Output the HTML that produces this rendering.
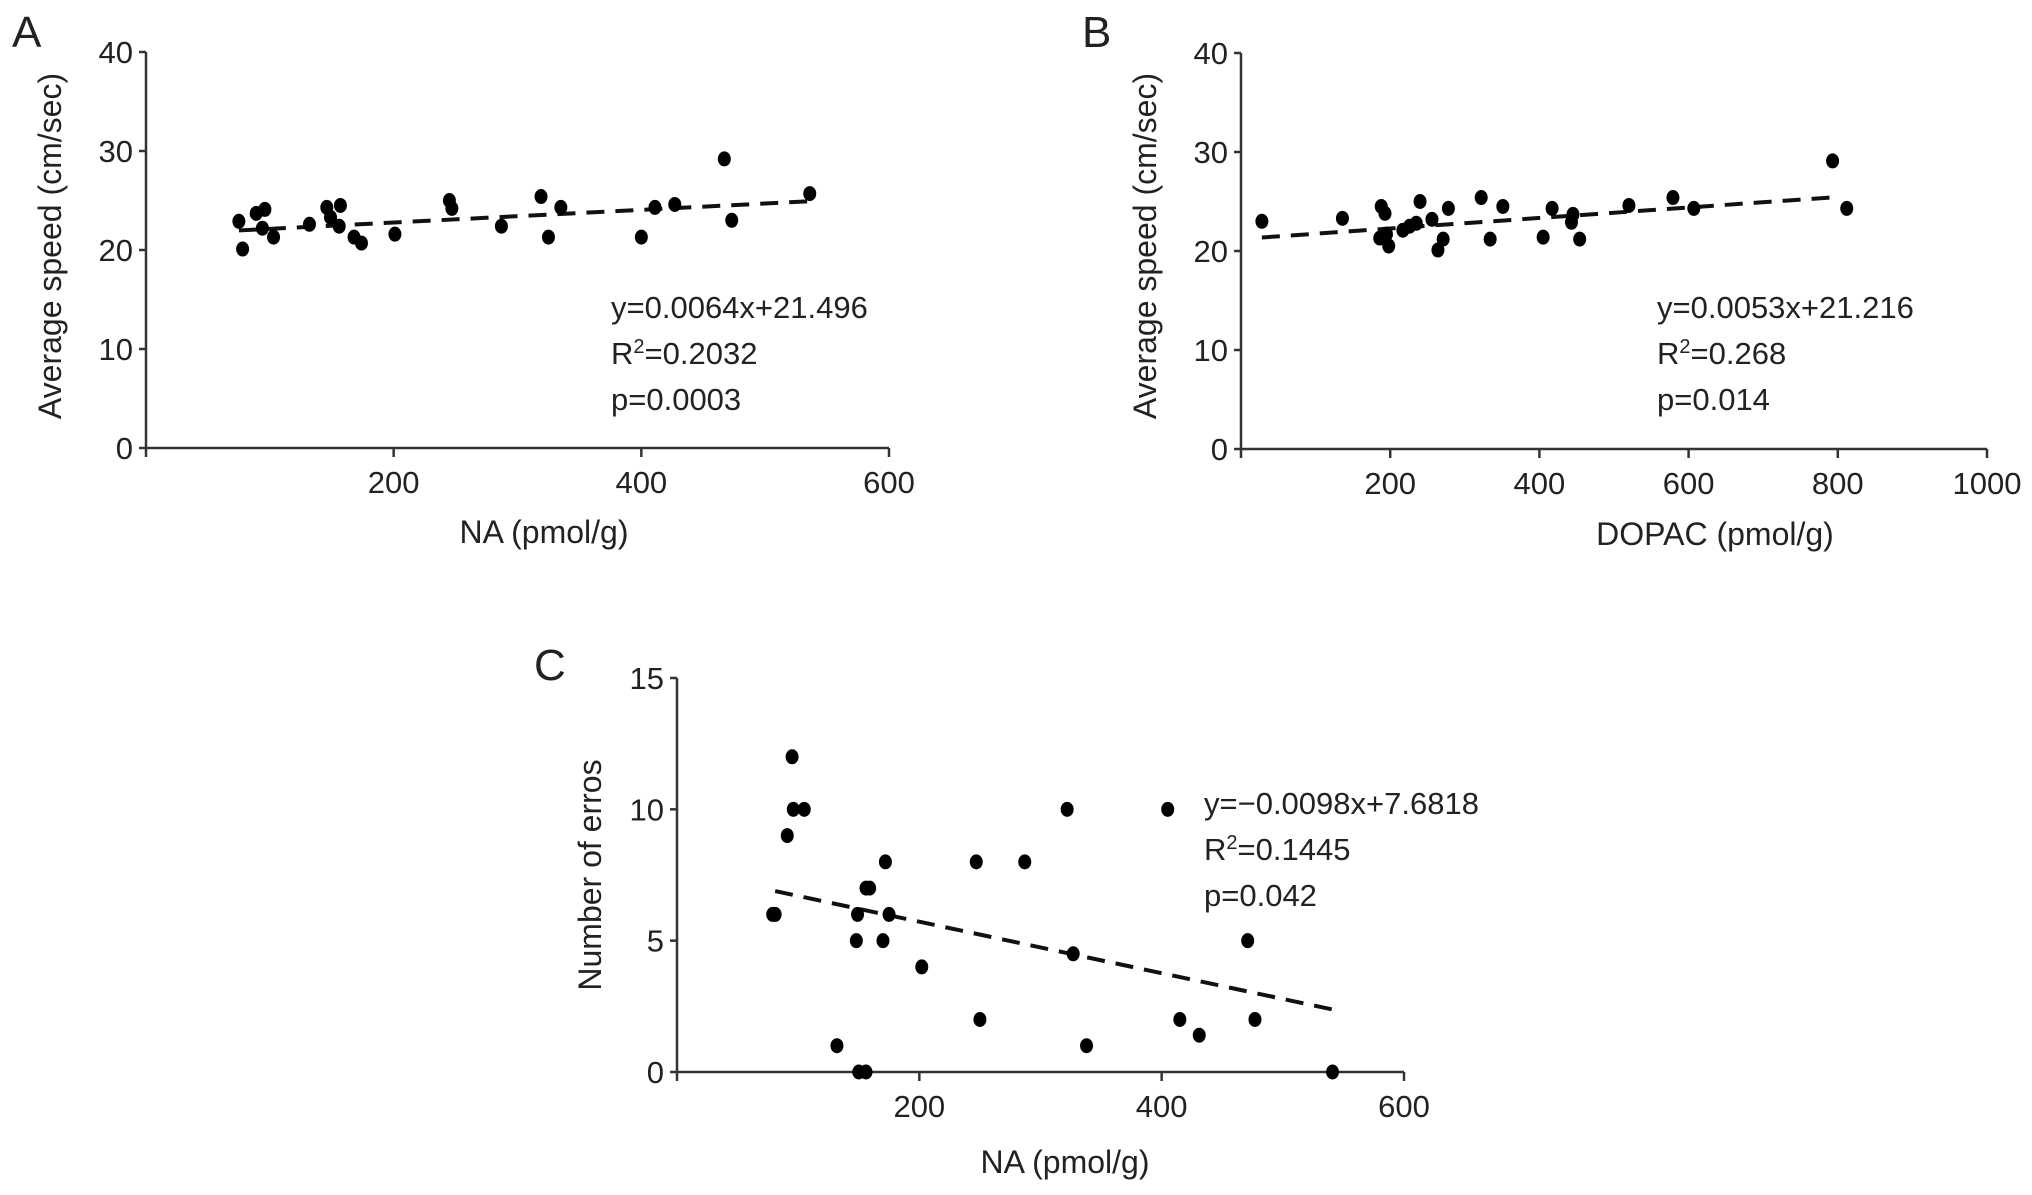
<!DOCTYPE html>
<html><head><meta charset="utf-8"><style>
html,body{margin:0;padding:0;background:#fff}
svg{display:block}
text{font-family:"Liberation Sans",Arial,sans-serif;fill:#222}
</style></head><body>
<svg id="fig" width="2032" height="1195" viewBox="0 0 2032 1195" xmlns="http://www.w3.org/2000/svg"></svg>
<script>
// Panel A data
const aX = [75,78,89,96,94,103,132,146,149,157,156,168,174,201,245,247,287,319,325,335,400,411,427,467,473,536];
const aY = [22.9,20.1,23.7,24.1,22.2,21.3,22.6,24.3,23.3,24.5,22.4,21.3,20.7,21.6,25,24.2,22.4,25.4,21.3,24.3,21.3,24.3,24.6,29.2,23,25.7];
const aFit = [0.0064, 21.496];
const aFitRange = [75, 540];
const aXTicks = [200,400,600];
const aYTicks = [0,10,20,30,40];
// Panel B data
const bX = [28,136,188,193,186,195,198,217,226,235,240,256,264,271,278,322,334,351,405,417,445,443,454,520,579,607,793,812];
const bY = [23.0,23.3,24.5,23.8,21.3,21.7,20.5,22.1,22.5,22.8,25,23.2,20.1,21.2,24.3,25.4,21.2,24.5,21.4,24.3,23.7,22.9,21.2,24.6,25.4,24.3,29.1,24.3];
const bFit = [0.0053, 21.216];
const bFitRange = [28, 790];
const bXTicks = [200,400,600,800,1000];
const bYTicks = [0,10,20,30,40];
// Panel C data
const cX = [79,81,91,95,96,105,132,149,148,150,156,156,159,172,170,175,202,247,250,287,322,327,338,405,415,431,471,477,541];
const cY = [6,6,9,12,10,10,1,6,5,0,0,7,7,8,5,6,4,8,2,8,10,4.5,1,10,2,1.4,5,2,0];
const cFit = [-0.0098, 7.6818];
const cFitRange = [81, 541];
const cXTicks = [200,400,600];
const cYTicks = [0,5,10,15];

const NS='http://www.w3.org/2000/svg';
const svg=document.getElementById('fig');
function mk(tag,attrs,parent){const e=document.createElementNS(NS,tag);for(const k in attrs)e.setAttribute(k,attrs[k]);(parent||svg).appendChild(e);return e;}
function txt(s,attrs,parent){const e=mk('text',attrs,parent);e.textContent=s;return e;}

function panel(cfg){
  const g=mk('g',{});
  
  
  const sx=v=>cfg.x0+(v-0)/(cfg.xmax)*(cfg.x1-cfg.x0);
  const sy=v=>cfg.y0-(v/cfg.ymax)*(cfg.y0-cfg.y1);
  const ya=mk('line',{x1:cfg.x0,y1:cfg.y1,x2:cfg.x0,y2:cfg.y0,stroke:'#333','stroke-width':2.5},g);
  
  
  const xa=mk('line',{x1:cfg.x0,y1:cfg.y0,x2:cfg.x1,y2:cfg.y0,stroke:'#333','stroke-width':2.5},g);
  
  
  cfg.yTicks.forEach(v=>{
    mk('line',{x1:cfg.x0-7,y1:sy(v),x2:cfg.x0,y2:sy(v),stroke:'#333','stroke-width':2.5},g);
    const t=txt(String(v),{x:cfg.x0-13,y:sy(v)+11,'text-anchor':'end','font-size':31},g);
    
    
  });
  mk('line',{x1:cfg.x0,y1:cfg.y0,x2:cfg.x0,y2:cfg.y0+9,stroke:'#333','stroke-width':2.5},g);
  cfg.xTicks.forEach(v=>{
    mk('line',{x1:sx(v),y1:cfg.y0,x2:sx(v),y2:cfg.y0+9,stroke:'#333','stroke-width':2.5},g);
    const t=txt(String(v),{x:sx(v),y:cfg.y0+45,'text-anchor':'middle','font-size':31},g);
    
    
  });
  const [m,b]=cfg.fit;const [r0,r1]=cfg.range;
  const fl=mk('line',{x1:sx(r0),y1:sy(m*r0+b),x2:sx(r1),y2:sy(m*r1+b),stroke:'#111','stroke-width':4,'stroke-dasharray':'18,11'},g);
  
  
  cfg.xs.forEach((xv,i)=>{
    const c=mk('ellipse',{cx:sx(xv),cy:sy(cfg.ys[i]),rx:6.5,ry:7.5,fill:'#000'},g);
    
    
  });
  const xt=txt(cfg.xTitle,{x:cfg.xtx,y:cfg.xty,'text-anchor':'middle','font-size':32},g);
  
  
  const yt=txt(cfg.yTitle,{x:0,y:0,'text-anchor':'middle','font-size':32,transform:`translate(${cfg.ytx},${cfg.yty}) rotate(-90)`},g);
  
  
  const pl=txt(cfg.label,{x:cfg.lx,y:cfg.ly,'font-size':44},g);
  
  
  cfg.stats.forEach((s,i)=>{
    const t=mk('text',{x:cfg.sx,y:cfg.sy+i*46,'font-size':31},g);
    
    
    if(s.indexOf('^2')>=0){
      const p=s.split('^2');
      const a=document.createElementNS(NS,'tspan');a.textContent=p[0];t.appendChild(a);
      const sup=document.createElementNS(NS,'tspan');sup.setAttribute('dy',-11);sup.setAttribute('font-size',20);sup.textContent='2';t.appendChild(sup);
      const c=document.createElementNS(NS,'tspan');c.setAttribute('dy',11);c.textContent=p[1];t.appendChild(c);
    } else t.textContent=s;
  });
}

panel({name:'panel-a',x0:146,x1:889,xmax:600,y0:448,y1:52,ymax:40,xs:aX,ys:aY,fit:aFit,range:aFitRange,
  xTicks:aXTicks,yTicks:aYTicks,xTitle:'NA (pmol/g)',yTitle:'Average speed (cm/sec)',xtx:544,xty:543,ytx:61,yty:246,
  label:'A',lx:12,ly:47,stats:['y=0.0064x+21.496','R^2=0.2032','p=0.0003'],sx:611,sy:318});
panel({name:'panel-b',x0:1241,x1:1987,xmax:1000,y0:449,y1:53,ymax:40,xs:bX,ys:bY,fit:bFit,range:bFitRange,
  xTicks:bXTicks,yTicks:bYTicks,xTitle:'DOPAC (pmol/g)',yTitle:'Average speed (cm/sec)',xtx:1715,xty:545,ytx:1156,yty:246,
  label:'B',lx:1082,ly:47,stats:['y=0.0053x+21.216','R^2=0.268','p=0.014'],sx:1657,sy:318});
panel({name:'panel-c',x0:677,x1:1404,xmax:600,y0:1072,y1:678,ymax:15,xs:cX,ys:cY,fit:cFit,range:cFitRange,
  xTicks:cXTicks,yTicks:cYTicks,xTitle:'NA (pmol/g)',yTitle:'Number of erros',xtx:1065,xty:1173,ytx:601,yty:875,
  label:'C',lx:534,ly:680,stats:['y=\u22120.0098x+7.6818','R^2=0.1445','p=0.042'],sx:1204,sy:814});
</script>
</body></html>
